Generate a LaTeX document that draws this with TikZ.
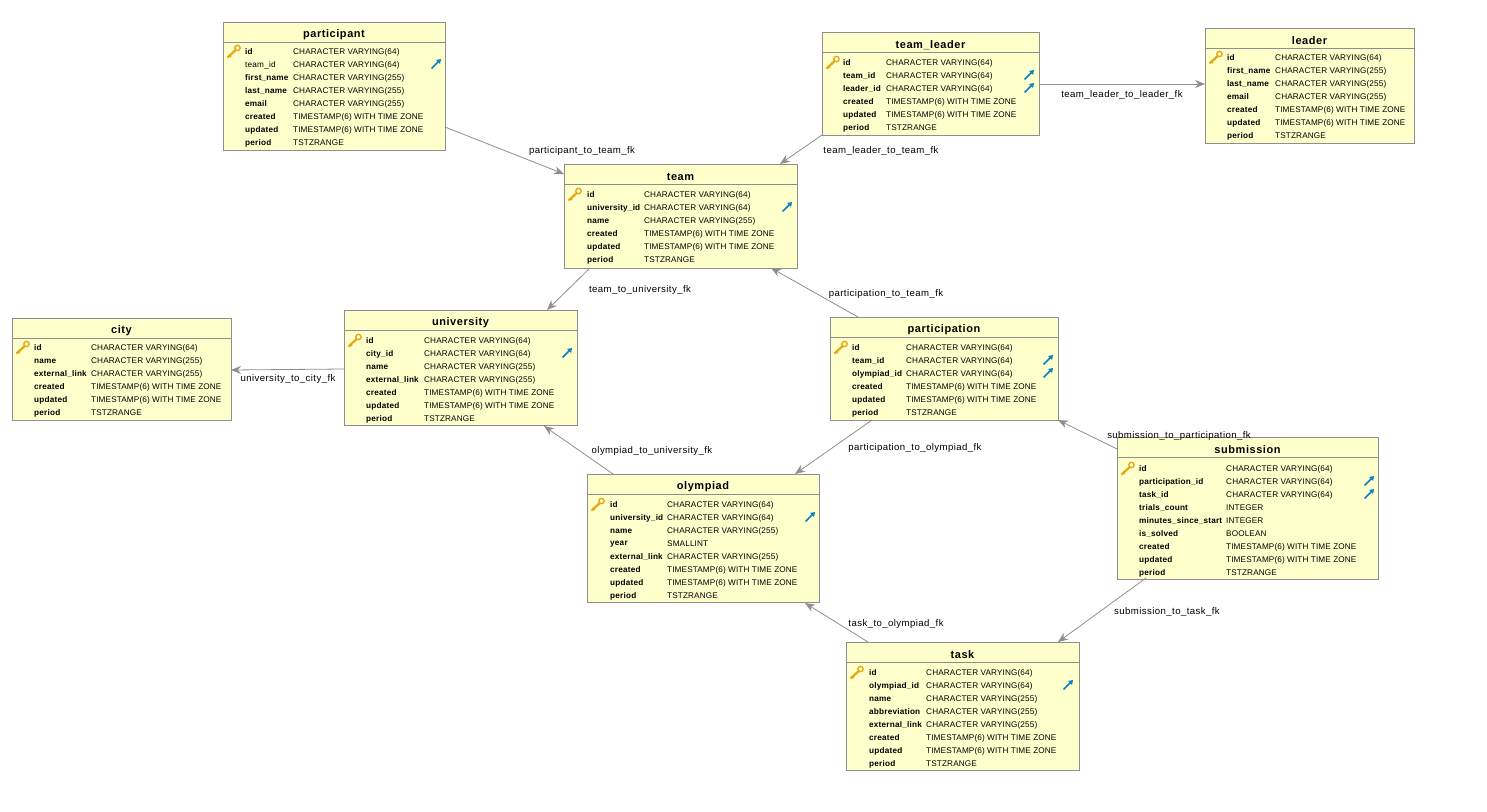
\documentclass[tikz,border=0pt]{standalone}
\usepackage{fontspec}
\setmainfont{Liberation Sans}
\usetikzlibrary{arrows.meta,calc}
\catcode`\_=12
\definecolor{tbfill}{HTML}{FFFFCC}
\definecolor{tbline}{HTML}{8E8E8E}
\definecolor{keygold}{HTML}{E3A70F}
\definecolor{fkblue}{HTML}{0A7FC6}
\tikzset{
 tablebox/.style={draw=tbline,fill=tbfill,line width=0.9pt,anchor=north west,inner sep=0,outer sep=0},
 titletext/.style={font=\fontsize{11}{11}\selectfont\bfseries\addfontfeature{LetterSpace=5},inner sep=0,anchor=center},
 nametext/.style={font=\fontsize{8.2}{9}\selectfont\bfseries\addfontfeature{LetterSpace=2.5},inner sep=0,anchor=west},
 typetext/.style={font=\fontsize{8.2}{9}\selectfont\addfontfeature{LetterSpace=1.5},inner sep=0,anchor=west},
 linklabel/.style={font=\fontsize{9.6}{10}\selectfont\addfontfeature{LetterSpace=4.4},inner sep=0,text=black,fill=none},
 rel/.style={draw=tbline,line width=0.8pt,-{Stealth[length=10pt,width=8pt]}},
 fk/.pic={
   \draw[fkblue,line width=1.5pt] (-4.5,4.5) -- (3,-3);
   \fill[fkblue] (5,-5) -- (4,0) -- (0,-4) -- cycle;
 },
 keyicon/.pic={
   \draw[keygold,line width=2.2pt] (-6.5,6.5) -- (2,-1.2);
   \draw[keygold,line width=1.2pt] (-4.6,4.2) -- (-3,6.2);
   \draw[keygold,line width=1.3pt,fill=tbfill] (3.5,-3) circle (2.7);
 }
}
% id, x, y, w, h, title, name col, type col, first row y
\newcommand{\dbtable}[9]{%
 \node[tablebox,minimum width=#4,minimum height=#5] (#1) at (#2,#3) {};
 \node[titletext] (#1title) at ($(#1.north)+(0,13)$) {#6};
 \draw[tbline,line width=0.9pt] ($(#1.north west)+(0,20.5)$) -- ($(#1.north east)+(0,20.5)$);
 \edef\tbid{#1}\def\colA{#7}\def\colB{#8}\def\rowY{#9}\def\tby{#3}%
 \pic at ($(#1.north west)+(11,\rowY-\tby)$) {keyicon};
}
\newcommand{\dbrows}[1]{%
 \foreach \nm/\ty [count=\i from 0] in {#1}{
   \node[nametext] (\tbid n\i) at ($(\tbid.north west)+(\colA,\rowY-\tby+1+13*\i)$) {\nm};
   \node[typetext] (\tbid t\i) at ($(\tbid.north west)+(\colB,\rowY-\tby+1+13*\i)$) {\ty};
 }%
}
\begin{document}
\begin{tikzpicture}[x=1pt,y=-1pt]
\useasboundingbox (0,0) rectangle (1487,811);

\dbtable{participant}{223}{22}{222}{128}{participant}{22}{70}{51}
\dbrows{id/CHARACTER VARYING(64),{\mdseries team_id}/CHARACTER VARYING(64),first_name/CHARACTER VARYING(255),last_name/CHARACTER VARYING(255),email/CHARACTER VARYING(255),created/TIMESTAMP(6) WITH TIME ZONE,updated/TIMESTAMP(6) WITH TIME ZONE,period/TSTZRANGE}
\pic at ($(participant.north east)+(-9,42)$) {fk};

\dbtable{teamleader}{822}{32}{217}{103}{team_leader}{21}{64}{62}
\dbrows{id/CHARACTER VARYING(64),team_id/CHARACTER VARYING(64),leader_id/CHARACTER VARYING(64),created/TIMESTAMP(6) WITH TIME ZONE,updated/TIMESTAMP(6) WITH TIME ZONE,period/TSTZRANGE}
\pic at ($(teamleader.north east)+(-10,43)$) {fk};
\pic at ($(teamleader.north east)+(-10,56)$) {fk};

\dbtable{leader}{1205}{28}{209}{115}{leader}{22}{70}{57}
\dbrows{id/CHARACTER VARYING(64),first_name/CHARACTER VARYING(255),last_name/CHARACTER VARYING(255),email/CHARACTER VARYING(255),created/TIMESTAMP(6) WITH TIME ZONE,updated/TIMESTAMP(6) WITH TIME ZONE,period/TSTZRANGE}

\dbtable{team}{564}{164}{233}{104}{team}{23}{80}{194}
\dbrows{id/CHARACTER VARYING(64),university_id/CHARACTER VARYING(64),name/CHARACTER VARYING(255),created/TIMESTAMP(6) WITH TIME ZONE,updated/TIMESTAMP(6) WITH TIME ZONE,period/TSTZRANGE}
\pic at ($(team.north east)+(-10,43)$) {fk};

\dbtable{city}{12}{318}{219}{102}{city}{22}{79}{347}
\dbrows{id/CHARACTER VARYING(64),name/CHARACTER VARYING(255),external_link/CHARACTER VARYING(255),created/TIMESTAMP(6) WITH TIME ZONE,updated/TIMESTAMP(6) WITH TIME ZONE,period/TSTZRANGE}

\dbtable{university}{344}{310}{233}{115}{university}{22}{80}{340}
\dbrows{id/CHARACTER VARYING(64),city_id/CHARACTER VARYING(64),name/CHARACTER VARYING(255),external_link/CHARACTER VARYING(255),created/TIMESTAMP(6) WITH TIME ZONE,updated/TIMESTAMP(6) WITH TIME ZONE,period/TSTZRANGE}
\pic at ($(university.north east)+(-10,43)$) {fk};

\dbtable{participation}{830}{317}{228}{103}{participation}{22}{76}{347}
\dbrows{id/CHARACTER VARYING(64),team_id/CHARACTER VARYING(64),olympiad_id/CHARACTER VARYING(64),created/TIMESTAMP(6) WITH TIME ZONE,updated/TIMESTAMP(6) WITH TIME ZONE,period/TSTZRANGE}
\pic at ($(participation.north east)+(-10,43)$) {fk};
\pic at ($(participation.north east)+(-10,56)$) {fk};

\dbtable{olympiad}{587}{474}{232}{128}{olympiad}{23}{80}{504}
\dbrows{id/CHARACTER VARYING(64),university_id/CHARACTER VARYING(64),name/CHARACTER VARYING(255),year/SMALLINT,external_link/CHARACTER VARYING(255),created/TIMESTAMP(6) WITH TIME ZONE,updated/TIMESTAMP(6) WITH TIME ZONE,period/TSTZRANGE}
\pic at ($(olympiad.north east)+(-9,43)$) {fk};

\dbtable{submission}{1117}{437}{261}{142}{submission}{22}{109}{468}
\dbrows{id/CHARACTER VARYING(64),participation_id/CHARACTER VARYING(64),task_id/CHARACTER VARYING(64),trials_count/INTEGER,minutes_since_start/INTEGER,is_solved/BOOLEAN,created/TIMESTAMP(6) WITH TIME ZONE,updated/TIMESTAMP(6) WITH TIME ZONE,period/TSTZRANGE}
\pic at ($(submission.north east)+(-9,44)$) {fk};
\pic at ($(submission.north east)+(-9,57)$) {fk};

\dbtable{task}{846}{642}{233}{128}{task}{23}{80}{672}
\dbrows{id/CHARACTER VARYING(64),olympiad_id/CHARACTER VARYING(64),name/CHARACTER VARYING(255),abbreviation/CHARACTER VARYING(255),external_link/CHARACTER VARYING(255),created/TIMESTAMP(6) WITH TIME ZONE,updated/TIMESTAMP(6) WITH TIME ZONE,period/TSTZRANGE}
\pic at ($(task.north east)+(-11,43)$) {fk};

% connectors
\draw[rel] ([yshift=23pt]participant.south east) -- ([yshift=-10pt]team.north west);
\draw[rel] (teamleader.south west) -- ([xshift=216pt]team.north west);
\draw[rel] ([yshift=-52pt]teamleader.north east) -- ([yshift=-56pt]leader.north west);
\draw[rel] ([xshift=26pt]team.south west) -- ([xshift=-30pt]university.north east);
\draw[rel] ([xshift=28pt]participation.north west) -- ([xshift=-26pt]team.south east);
\draw[rel] ([yshift=-59pt]university.north west) -- ([yshift=-52pt]city.north east);
\draw[rel] ([xshift=26pt]olympiad.north west) -- ([xshift=-33pt,yshift=-1pt]university.south east);
\draw[rel] ([xshift=42pt]participation.south west) -- ([xshift=-24pt]olympiad.north east);
\draw[rel] ([yshift=-12pt]submission.north west) -- (participation.south east);
\draw[rel] ([xshift=29pt,yshift=1pt]submission.south west) -- ([xshift=-21pt]task.north east);
\draw[rel] ([xshift=22pt]task.north west) -- ([xshift=-14pt,yshift=-1pt]olympiad.south east);

% connector labels
\node[linklabel] (l1) at (582,151) {participant_to_team_fk};
\node[linklabel] (l2) at (881,151) {team_leader_to_team_fk};
\node[linklabel] (l3) at (1122,95) {team_leader_to_leader_fk};
\node[linklabel] (l4) at (640,290) {team_to_university_fk};
\node[linklabel] (l5) at (886,294) {participation_to_team_fk};
\node[linklabel] (l6) at (288,379) {university_to_city_fk};
\node[linklabel] (l7) at (652,451) {olympiad_to_university_fk};
\node[linklabel] (l8) at (915,448) {participation_to_olympiad_fk};
\node[linklabel] (l9) at (1179,436) {submission_to_participation_fk};
\node[linklabel] (l10) at (1167,612) {submission_to_task_fk};
\node[linklabel] (l11) at (896,624) {task_to_olympiad_fk};
\end{tikzpicture}
\end{document}
